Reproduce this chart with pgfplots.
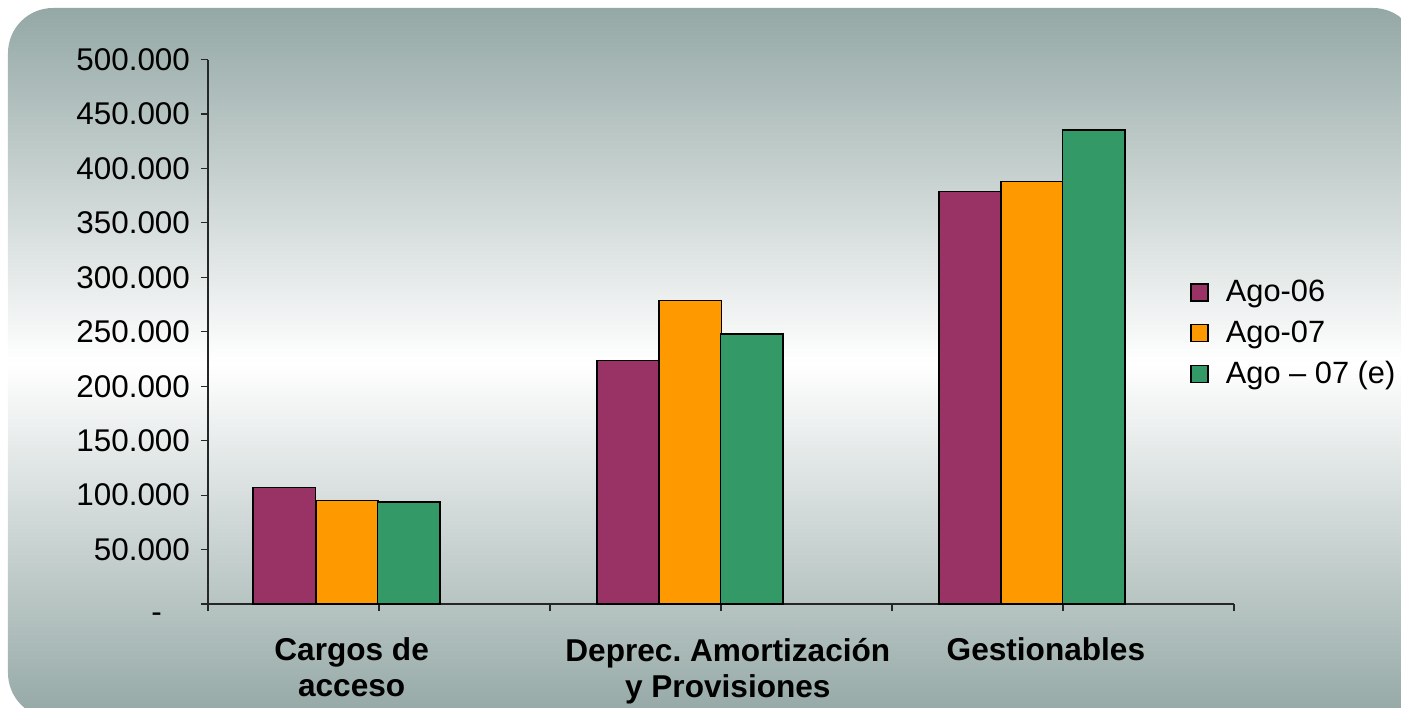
\documentclass[border=0pt]{standalone}
\usepackage{fontspec}
\setmainfont{Liberation Sans}
\usepackage{pgfplots}
\pgfplotsset{compat=1.18}
\definecolor{bgc}{RGB}{148,168,165}
\definecolor{cpurple}{RGB}{153,51,102}
\definecolor{corange}{RGB}{255,153,0}
\definecolor{cgreen}{RGB}{51,153,102}
\frenchspacing
\begin{document}
\begin{tikzpicture}
\useasboundingbox (-104pt,-51.5pt) rectangle (596.5pt,302pt);
\shade[top color=bgc, bottom color=bgc, middle color=white, rounded corners=22.5pt] (-100pt,-57pt) rectangle (605pt,298pt);
\begin{axis}[
  at={(0,0)}, anchor=south west,
  scale only axis, width=513pt, height=272.25pt,
  xmin=0, xmax=6, ymin=0, ymax=500000,
  axis x line*=bottom, axis y line*=left,
  axis line style={-, draw=black!85, line width=0.6pt},
  tick style={draw=black!85, line width=0.6pt},
  tick align=outside, major tick length=3.5pt,
  xtick={0,1,2,3,4,5,6}, xticklabels={,,,,,,},
  extra x ticks={0.84,3.04,4.90},
  extra x tick labels={{Cargos de\\acceso},{Deprec. Amortización\\y Provisiones},{Gestionables}},
  extra x tick style={tick style={draw=none}, tick label style={font=\fontsize{15.8}{18}\selectfont\bfseries, align=center, anchor=north, yshift=-10pt}},
  scaled y ticks=false,
  ytick={0,50000,100000,150000,200000,250000,300000,350000,400000,450000,500000},
  yticklabels={{\raisebox{-9pt}[0pt][0pt]{-}\rule{14pt}{0pt}},50.000,100.000,150.000,200.000,250.000,300.000,350.000,400.000,450.000,500.000},
  yticklabel style={font=\fontsize{15.7}{18}\selectfont, anchor=east, xshift=-2pt},
  ybar, bar width=0.365,
  legend style={at={(rel axis cs:0.951,0.61)}, anchor=north west, draw=none, fill=none,
    font=\fontsize{15.4}{18}\selectfont, row sep=4pt, cells={anchor=west}},
  legend cell align=left,
  legend image code/.code={\draw[#1, line width=0.75pt] (0pt,-4.25pt) rectangle (8.5pt,4.25pt); \path[draw=none, fill=none] (0pt,0pt) rectangle (15.5pt,0.1pt);},
]
\addplot[bar shift=0pt, fill=cpurple, draw=black, line width=0.75pt] coordinates {(0.447,107200) (2.456,223600) (4.456,378700)};
\addplot[bar shift=0pt, fill=corange, draw=black, line width=0.75pt] coordinates {(0.813,95000) (2.820,278800) (4.820,388200)};
\addplot[bar shift=0pt, fill=cgreen, draw=black, line width=0.75pt] coordinates {(1.175,93500) (3.180,247900) (5.180,435400)};
\legend{Ago-06,Ago-07,Ago – 07 (e)}
\end{axis}
\end{tikzpicture}
\end{document}
